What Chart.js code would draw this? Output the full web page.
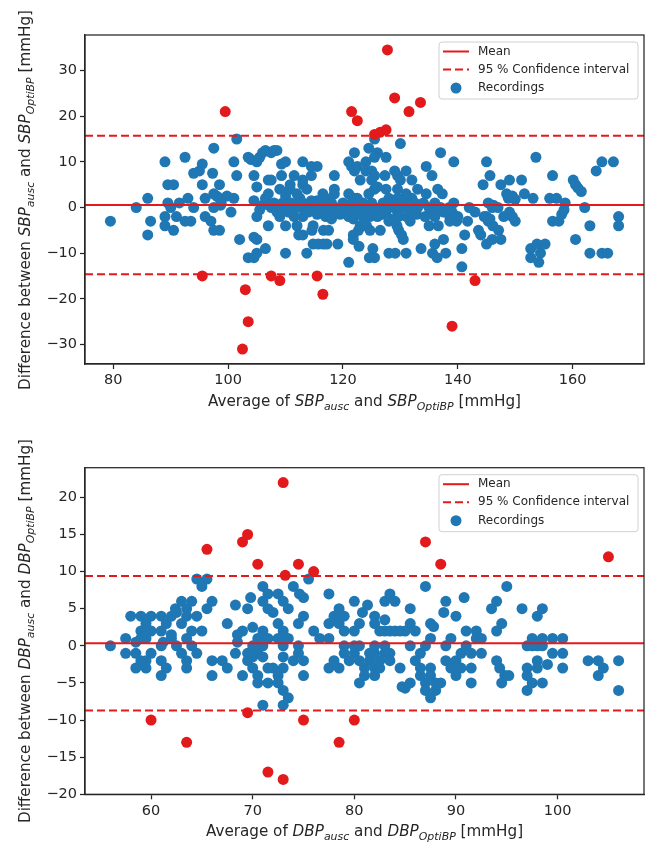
<!DOCTYPE html>
<html>
<head>
<meta charset="utf-8">
<script src="https://cdn.jsdelivr.net/npm/chart.js@4.4.0/dist/chart.umd.min.js"></script>
<style>
  body { margin: 0; background: #fff; width: 651px; height: 845px; position: relative; overflow: hidden;
         font-family: "DejaVu Sans", sans-serif; color: #262626; }
  .panel { position: absolute; left: 0; width: 651px; }
  .xt { position: absolute; font-size: 15.2px; line-height: 18px; white-space: nowrap; transform: translateX(-50%); }
  .yt { position: absolute; font-size: 15.2px; line-height: 18px; white-space: nowrap; transform: translate(-50%, -50%) rotate(-90deg); }
  sub { font-size: 0.72em; vertical-align: baseline; position: relative; top: 0.32em; line-height: 0; }
</style>
</head>
<body>
<div class="panel" style="top:0;height:425px"><canvas id="sbp" width="651" height="425"></canvas></div>
<div class="panel" style="top:425px;height:420px"><canvas id="dbp" width="651" height="420"></canvas></div>

<div class="yt" style="left:25px;top:199.5px">Difference between <i>SBP</i><sub><i>ausc</i></sub> and <i>SBP</i><sub><i>OptiBP</i></sub> [mmHg]</div>
<div class="xt" style="left:364.5px;top:392px">Average of <i>SBP</i><sub><i>ausc</i></sub> and <i>SBP</i><sub><i>OptiBP</i></sub> [mmHg]</div>
<div class="yt" style="left:25px;top:631px">Difference between <i>DBP</i><sub><i>ausc</i></sub> and <i>DBP</i><sub><i>OptiBP</i></sub> [mmHg]</div>
<div class="xt" style="left:364.5px;top:822px">Average of <i>DBP</i><sub><i>ausc</i></sub> and <i>DBP</i><sub><i>OptiBP</i></sub> [mmHg]</div>

<script>
// --- SBP : [average, difference] ---
const sbpPoints = [
  [79.5,-3],[84,0],[86,2],[86.5,-3],[86,-6],[89,10],[89.5,5],[90.5,5],[89.5,1],[90,0],[89,-2],[89,-4],
  [90.5,-5],[91,-2],[91.5,1],[92.5,11],[93,2],[92.5,-3],[93.5,-3],[94,0],[94,7.5],[95,8],[95.5,9.5],
  [95.5,5],[96,2],[96,-2],[97,-3],[97.5,13],[97.3,7.5],[98.5,5],[97.5,3],[98,2.5],[98.5,2],[99.8,2.5],
  [101,2],[97.5,0],[98.7,0.5],[98.8,1],[97.5,-5],[98.5,-5],[100.5,-1],[101.5,15],[101,10],[101.5,7],
  [102,-7],[103.5,11],[104,10.5],[105,10],[105.5,11],[106,12],[106.5,12.5],[107.5,12],[108,12.5],
  [108.5,12.5],[104.5,7],[105,4.5],[107,6],[104.5,1.5],[105.5,-0.5],[106,0.5],[106.5,2],[107,3],
  [105,-2],[107,-4],[104.5,-6.5],[105,-7],[103.5,-11],[104.5,-11],[105,-10],[106.5,-9],
  [109.3,9.5],[110,10],[113,10],[114.5,9],[115.5,9],[118.5,7],[109.3,7],[111.5,7],[113,6],[114.5,7],
  [107.5,6],[110.8,5],[109,4],[110.8,4],[113,5],[113.7,4],[118.5,4],[118.5,3],[116.5,3],[117,2],
  [115.5,1.5],[114.5,1.5],[110,2.5],[112,3],
  [125.5,15],[124.5,13],[130,14],[122,12],[126,12],[125.5,11],[127.5,11],[137,12],[139.3,10],
  [121,10],[121.5,9],[122.5,9],[124,10],[122,8],[124,8],[125,8],[123,6],[125,6],[125.5,7],[127.3,7],
  [129,8],[131,8],[129.5,7],[130,6],[132,6],[134.5,9],[135.5,7],[136.5,4],
  [121,3],[122,2],[122.5,2],[124.5,3],[125.5,4],[126,4.5],[127.5,4],[128,2],[129.5,4],[129.5,2],
  [131,3],[132,2],[133,4],[134.5,3],[136,1],[137.3,3],[139.3,1],
  [107.5,0],[108,1],[108.5,-1],[109,0],[109.5,1],[110,0],[110.5,-1],[111,1],[111.5,0],[112,0],
  [112.5,2],[113,1],[113.5,-1],[114,0],[114.5,0],[115,1],[115.5,-1],[116,0],[116.5,1],[117,0],
  [117.5,-1],[118,1],[118.5,0],[119,-1],[119.5,0],[120,1],[120.5,-1],[121,0],[121.5,1],[122,0],
  [122.5,-1],[123,0],[123.5,1],[124,-1],[124.5,0],[125,1],[125.5,0],[126,-1],[126.5,0],[127,1],
  [127.5,-1],[128,0],[128.5,1],[129,0],[129.5,-1],[130,0],[130.5,1],[131,0],[132,-1],[132.5,1],
  [133,0],[134,1],[135,0],[135.5,-1],[136,0],[137,0],[137.5,-1],[138.5,0],[139,-1],
  [109,-2],[110.8,-1],[111.5,-2],[113,-2],[114,-1],[115.5,-1.5],[117,-2],[118,-2.5],[119.5,-1.5],
  [121,-2],[121.8,-2.5],[123.5,-2],[124.7,-2],[126,-2],[127,-1.5],[128.2,-2.5],[129.7,-2],[131.1,-2],
  [132.8,-1.5],[134.3,-2],[136,-2],[138.6,-2],[139.8,-3],
  [110,-4],[112,-4],[112.3,-6],[113,-6],[114.6,-5],[114.8,-4],[116.6,-5],[117.5,-5],
  [121.8,-6],[122.7,-5],[123,-4],[124.1,-4],[124.7,-5],[126.5,-5],[128,-3],[129.4,-4],[129.7,-5],
  [130.2,-6],[130.5,-7],[131.7,-3],[135,-4],[136.6,-4],[137.5,-7],[138.6,-3],
  [113.7,-10],[114.8,-8],[115.7,-8],[116.6,-8],[117.2,-8],[119.1,-8],[110,-10],[121,-12],[122.8,-8.5],
  [121.8,-7],[124.6,-11],[125.5,-11],[125.2,-9],[128,-10],[129.1,-10],[131,-10],[133.6,-9],
  [135.6,-10],[136.4,-11],[137.9,-10],[136,-8],[140.7,-9],[140.7,-13],[141.2,-6],
  [140,-2],[141.7,-3],[143.6,-5],[144,-6],[145,-8],[144.4,5],[145,10],[145.6,7],[147.5,5],[149,6],
  [151.1,6],[148.5,3],[148.8,2],[149.5,2.5],[150,1.8],[151.6,3],[153.1,2],[153.6,11],[156.5,7],
  [156,2],[157.2,2],[158.7,1],[160.1,6],[160.5,5],[160.9,4.3],[161.5,3.5],[162.1,0],[164.1,8],
  [165.1,10],[167.1,10],[168,-2],[168,-4],[163,-4],[160.5,-7],[163,-10],[165.1,-10],[166.1,-10],
  [144.6,-2],[145,-2],[145.6,-2.5],[145.3,-3],[146.1,-4],[147.1,-5],[146,0],[147,0],[148,-2],
  [149,-1],[149.5,-2],[150,-3],[146,-7],[147.5,-7],[152.7,-9],[152.7,-11],[153.8,-8],[154.4,-10],
  [154.1,-12],[155.2,-8],[156.5,-3],[157.6,-3],[158.1,-1.5],[158.5,-0.5],[143,-1],[142,0],
  [145.3,1],[146.2,0.5]
];
const sbpOutliers = [
  [99.5,21],[95.5,-15],[103,-18],[103.5,-25],[102.5,-31],[107.5,-15],[109,-16],[115.5,-15],
  [116.5,-19],[139,-26],[143,-16],[127.75,34.5],[129,24],[133.5,23],[131.5,21],[121.5,21],
  [122.5,19],[125.5,16],[126.5,16.5],[127.5,17]
];
const sbpMean = 0.55, sbpUpper = 15.7, sbpLower = -14.6;
const sbpXTicks = [80, 100, 120, 140, 160];
const sbpYTicks = [-30, -20, -10, 0, 10, 20, 30];

// --- DBP : [average, difference] ---
const dbpPoints = [
  [56,0],[57.5,1],[57.5,-1],[58,4],[59,4],[60,4],[61,4],[58.5,-1],[58.5,-3],[59.5,-3],[59,2],[59.5,3],
  [60,2],[59.5,1],[59,1],[58.5,0.5],[60,-1],[59.5,-2],[59,-2],[61,2],[61.5,3],[62,1.5],[61.2,0.5],
  [61,0],[61,-2],[61.5,-3],[61,-4],[62,4],[62.4,5],[63,6],[62.5,4.5],[63,3],[63.5,4],[63.5,5],[64,6],
  [64.5,4],[64,2],[65,2],[65.5,5],[66,6],[64.5,9],[65.5,9],[65,8],[62,1],[62.5,0],[63.5,1],[63,-1],
  [63.5,-2],[63.5,-3],[64.5,-1],[64,0],[66,-2],[66,-4],[67.5,3],[68.3,5.5],[69.5,5],[69.8,6.5],[69,2],
  [70,2.5],[67,-2],[67.5,-3],[68.3,-1],[68.5,0.5],[68.5,1.5],[69,-4],[69.5,-1],[69.5,-2],[70,0],
  [70,-1.5],[70.5,-1],[70.5,1],[70,-3],[70.5,-4],[70.5,-5],[71,8],[71,6],[71.5,7],[71.5,5],[72,4.5],
  [71,2],[71,0],[71.5,1],[71,-1.5],[71.5,-3],[71.5,-5],[71,-8],[72,-3],[72.5,-4],[72.5,-5],[72.5,7],
  [73,6],[72.5,3],[73,2],[72.5,1],[73,0],[73,-1.5],[73,-3],[73,-6],[73.5,-7],[73,-8],[73.5,5],[73.5,1],
  [74,8],[74.5,3],[75,4],[74.5,0],[74,-2],[74.5,-1],[75,-2],[75,-4],[75.5,9],[76,2],[76.6,1],[77.5,7],
  [77.5,3],[77.5,-3],[75,6.5],[74.6,7],
  [77.5,1],[78,4],[78.5,5],[79,4],[78.5,3],[79,2],[78,-2],[78.5,-3],[79,0],[79,-1],[80,6],[80,2],
  [80.5,3],[80.8,4.5],[81.3,5.5],[80,0],[80,-1],[80.5,0],[80.5,-2],[80.5,-5],[79.5,-2],[81,-3],[81,-4],
  [81.5,-1],[81.5,-2],[82,4],[82,3],[82,0],[82,-1],[82,-3],[82,-4],[82.5,2],[82.5,-2],[82.5,-3],[83,6],
  [83,3.5],[83,2],[83,0],[83,-1],[83.5,7],[84,6],[83.5,2],[84,2],[83.5,-1],[83.5,-2],[84.5,2],[84.5,-3],
  [85,2],[85,-5.7],[84.7,-5.5],[85.5,5],[85.5,3],[85.5,0],[86,2],[86,-2],[85.5,-5],[86.5,-1],[86.5,-3],
  [86.5,-4],[87,0],[87,-5],[87,-6],[87,8],[87.5,3],[87.5,1],[87.5,-3],[87.5,-4],[87.5,-7],[87.8,2.6],
  [88,-5],[88,-6],[88.5,-5],[88.8,4.5],[89,6],[89,0],[89,-2],[89.5,1],[89.5,-3],[90,4],[90,-2],[90,-4],
  [90.5,-1],[90.5,-3],[90.8,6.5],[91,2],[91,0],[91.5,-1],[91.5,-3],[91.5,-5],[92,2],[92,1],[92.5,1],
  [92.5,-1],[93.5,5],[94,6],[94.5,3],[94,2],[94,-2],[94.3,-3],[94.8,-4],[94.5,-5],[95.2,-4],[95,8],
  [96.5,5],[97,0],[97,-3],[97.5,1],[97.5,0],[98,0],[98,4],[98.5,5],[98.5,1],[98.5,0],[99.5,1],[100.5,1],
  [100.5,-1],[100.5,-3],[99.5,-1],[99,-2.5],[98.5,-5],[97,-4],[97,-6],[97.5,-5],[98,-2],[98,-3],
  [103,-2],[104,-2],[104,-4],[104.5,-3],[106,-2],[106,-6]
];
const dbpOutliers = [
  [60,-10],[63.5,-13],[65.5,13],[69,14],[69.5,15],[70.5,11],[69.5,-9],[71.5,-17],[73,22],[74.5,11],
  [73.2,9.5],[76,10],[75,-10],[80,-10],[78.5,-13],[73,-18],[87,14],[88.5,11],[105,12]
];
const dbpMean = 0.35, dbpUpper = 9.4, dbpLower = -8.7;
const dbpXTicks = [60, 70, 80, 90, 100];
const dbpYTicks = [-20, -15, -10, -5, 0, 5, 10, 15, 20];

const blue = '#1f77b4';
const red = '#e31a1c';
const ink = '#262626';
Chart.defaults.font.family = '"DejaVu Sans", sans-serif';
Chart.defaults.color = ink;

function fmt(v) {
  return v < 0 ? '\u2212' + Math.abs(v) : String(v);
}

// spines on all four sides
const framePlugin = {
  id: 'frame',
  afterDatasetsDraw(chart) {
    const { ctx, chartArea: a } = chart;
    ctx.save();
    ctx.strokeStyle = ink;
    ctx.lineWidth = 1.25;
    ctx.strokeRect(a.left, a.top, a.right - a.left, a.bottom - a.top);
    ctx.restore();
  }
};

// matplotlib-like legend in the upper right corner
const legendPlugin = {
  id: 'mplLegend',
  afterDraw(chart) {
    const { ctx, chartArea: a } = chart;
    const w = 199, h = 57;
    const x0 = a.right - 6 - w, y0 = a.top + 7;
    ctx.save();
    ctx.beginPath();
    ctx.roundRect(x0, y0, w, h, 3);
    ctx.fillStyle = 'rgba(255,255,255,0.8)';
    ctx.fill();
    ctx.strokeStyle = '#d0d0d0';
    ctx.lineWidth = 1;
    ctx.stroke();

    const rows = [a.top + 16.5, a.top + 34.5, a.top + 53];
    ctx.strokeStyle = red;
    ctx.lineWidth = 2;
    ctx.beginPath();
    ctx.moveTo(x0 + 4, rows[0]);
    ctx.lineTo(x0 + 30, rows[0]);
    ctx.stroke();
    ctx.setLineDash([8, 4]);
    ctx.beginPath();
    ctx.moveTo(x0 + 4, rows[1]);
    ctx.lineTo(x0 + 30, rows[1]);
    ctx.stroke();
    ctx.setLineDash([]);
    ctx.fillStyle = blue;
    ctx.beginPath();
    ctx.arc(x0 + 17, rows[2], 5.5, 0, Math.PI * 2);
    ctx.fill();

    ctx.fillStyle = ink;
    ctx.font = '12px "DejaVu Sans"';
    ctx.textBaseline = 'middle';
    ctx.fillText('Mean', x0 + 39, rows[0]);
    ctx.fillText('95 % Confidence interval', x0 + 39, rows[1]);
    ctx.fillText('Recordings', x0 + 39, rows[2]);
    ctx.restore();
  }
};

function hline(y, xMin, xMax, dashed) {
  return {
    type: 'line',
    data: [{ x: xMin, y: y }, { x: xMax, y: y }],
    borderColor: red,
    borderWidth: 2,
    borderDash: dashed ? [8, 4] : [],
    pointRadius: 0,
    fill: false,
    order: 0
  };
}

function creerGraphique(id, points, outliers, mean, upper, lower, xRange, yRange, xTicks, yTicks, padTop, xAxisH) {
  const toXY = p => ({ x: p[0], y: p[1] });
  new Chart(document.getElementById(id), {
    type: 'scatter',
    data: {
      datasets: [
        hline(mean, xRange[0], xRange[1], false),
        hline(upper, xRange[0], xRange[1], true),
        hline(lower, xRange[0], xRange[1], true),
        {
          data: outliers.map(toXY),
          backgroundColor: red,
          borderWidth: 0,
          pointRadius: 5.5,
          order: 1
        },
        {
          data: points.map(toXY),
          backgroundColor: blue,
          borderWidth: 0,
          pointRadius: 5.5,
          order: 2
        }
      ]
    },
    options: {
      responsive: false,
      animation: false,
      events: [],
      layout: { padding: { top: padTop, right: 7, left: 0, bottom: 0 } },
      plugins: { legend: { display: false }, tooltip: { enabled: false } },
      scales: {
        x: {
          type: 'linear',
          min: xRange[0],
          max: xRange[1],
          afterBuildTicks: s => { s.ticks = xTicks.map(v => ({ value: v })); },
          afterFit: s => { s.height = xAxisH; },
          grid: { drawOnChartArea: false, tickLength: 5, color: ink, tickWidth: 1.25 },
          border: { color: ink, width: 1.25 },
          ticks: { font: { size: 14.5 }, color: ink, padding: 3, maxRotation: 0, callback: fmt }
        },
        y: {
          type: 'linear',
          min: yRange[0],
          max: yRange[1],
          afterBuildTicks: s => { s.ticks = yTicks.map(v => ({ value: v })); },
          afterFit: s => { s.width = 85; },
          grid: { drawOnChartArea: false, tickLength: 5, color: ink, tickWidth: 1.25 },
          border: { color: ink, width: 1.25 },
          ticks: { font: { size: 14.5 }, color: ink, padding: 3, callback: fmt }
        }
      }
    },
    plugins: [framePlugin, legendPlugin]
  });
}

creerGraphique('sbp', sbpPoints, sbpOutliers, sbpMean, sbpUpper, sbpLower,
  [75.075, 172.425], [-34.275, 37.775], sbpXTicks, sbpYTicks, 35, 61);
creerGraphique('dbp', dbpPoints, dbpOutliers, dbpMean, dbpUpper, dbpLower,
  [53.5, 108.5], [-20, 24], dbpXTicks, dbpYTicks, 42.7, 50.7);
</script>
</body>
</html>
